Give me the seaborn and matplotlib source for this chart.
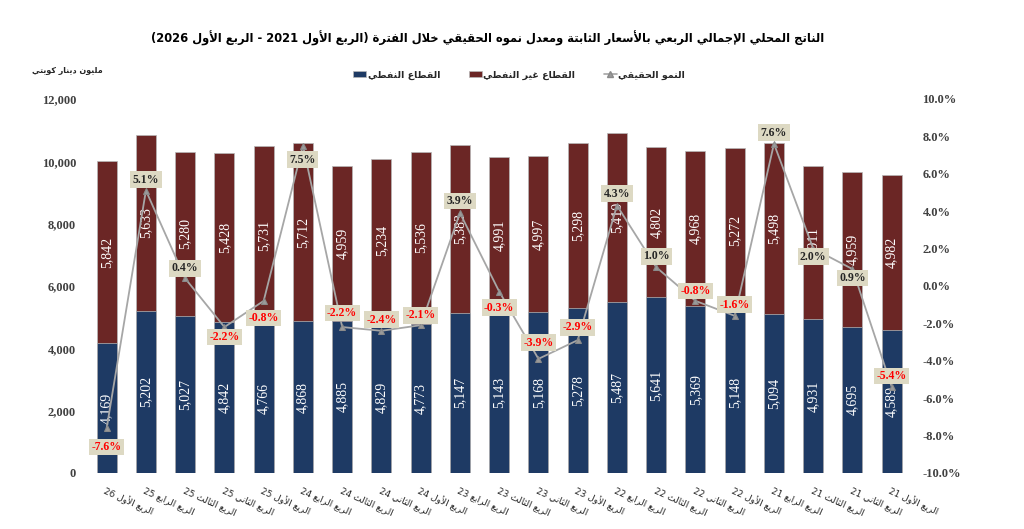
import numpy as np
import pandas as pd
import matplotlib
matplotlib.use("Agg")
import matplotlib.pyplot as plt
from matplotlib.patches import Patch
from matplotlib.lines import Line2D
import seaborn as sns

# ---------------- data ----------------
quarters = ["الربع الأول 26", "الربع الرابع 25", "الربع الثالث 25", "الربع الثاني 25", "الربع الأول 25",
            "الربع الرابع 24", "الربع الثالث 24", "الربع الثاني 24", "الربع الأول 24",
            "الربع الرابع 23", "الربع الثالث 23", "الربع الثاني 23", "الربع الأول 23",
            "الربع الرابع 22", "الربع الثالث 22", "الربع الثاني 22", "الربع الأول 22",
            "الربع الرابع 21", "الربع الثالث 21", "الربع الثاني 21", "الربع الأول 21"]
oil = [4169, 5202, 5027, 4842, 4766, 4868, 4885, 4829, 4773, 5147, 5143,
       5168, 5278, 5487, 5641, 5369, 5148, 5094, 4931, 4695, 4589]
non_oil = [5842, 5633, 5280, 5428, 5731, 5712, 4959, 5234, 5536, 5383, 4991,
           4997, 5298, 5410, 4802, 4968, 5272, 5498, 4911, 4959, 4982]
growth = [-7.6, 5.1, 0.4, -2.2, -0.8, 7.5, -2.2, -2.4, -2.1, 3.9, -0.3,
          -3.9, -2.9, 4.3, 1.0, -0.8, -1.6, 7.6, 2.0, 0.9, -5.4]

title_text = "الناتج المحلي الإجمالي الربعي بالأسعار الثابتة ومعدل نموه الحقيقي خلال الفترة (الربع الأول 2021 - الربع الأول 2026)"
label_oil = "القطاع النفطي"
label_non_oil = "القطاع غير النفطي"
label_growth = "النمو الحقيقي"
unit_text = "مليون دينار كويتي"

# label placement for growth labels (pixels, + = below the point)
growth_label_offset = [19, -11, -10, 10, 17, 14, -14, -11, -10, -12, 16,
                       -16, -13, -12, -11, -10, -11, -11, 8, 9, -11]

# ---------------- Arabic shaping (presentation forms) ----------------
_counts = [('\u0621', 1), ('\u0622', 2), ('\u0623', 2), ('\u0624', 2), ('\u0625', 2), ('\u0626', 4),
           ('\u0627', 2), ('\u0628', 4), ('\u0629', 2), ('\u062A', 4), ('\u062B', 4), ('\u062C', 4),
           ('\u062D', 4), ('\u062E', 4), ('\u062F', 2), ('\u0630', 2), ('\u0631', 2), ('\u0632', 2),
           ('\u0633', 4), ('\u0634', 4), ('\u0635', 4), ('\u0636', 4), ('\u0637', 4), ('\u0638', 4),
           ('\u0639', 4), ('\u063A', 4), ('\u0641', 4), ('\u0642', 4), ('\u0643', 4), ('\u0644', 4),
           ('\u0645', 4), ('\u0646', 4), ('\u0647', 4), ('\u0648', 2), ('\u0649', 2), ('\u064A', 4)]
FORMS = {}
_code = 0xFE80
for _ch, _n in _counts:
    FORMS[_ch] = [chr(_code + i) for i in range(_n)]
    _code += _n
LAM_ALEF = {'\u0622': ('\uFEF5', '\uFEF6'), '\u0623': ('\uFEF7', '\uFEF8'),
            '\u0625': ('\uFEF9', '\uFEFA'), '\u0627': ('\uFEFB', '\uFEFC')}


def shape_word(w):
    units = []
    i = 0
    while i < len(w):
        c = w[i]
        if c == '\u0644' and i + 1 < len(w) and w[i + 1] in LAM_ALEF:
            units.append(('LA', w[i + 1]))
            i += 2
        else:
            units.append(('C', c))
            i += 1

    def joins_next(u):
        k, c = u
        return k == 'C' and c in FORMS and len(FORMS[c]) == 4

    def is_ar(u):
        k, c = u
        return k == 'LA' or c in FORMS

    out = []
    for k, u in enumerate(units):
        kind, c = u
        prev_join = k > 0 and joins_next(units[k - 1])
        if kind == 'LA':
            out.append(LAM_ALEF[c][1 if prev_join else 0])
            continue
        if c not in FORMS:
            out.append(c)
            continue
        f = FORMS[c]
        if len(f) == 1:
            out.append(f[0])
            continue
        next_join = len(f) == 4 and k + 1 < len(units) and is_ar(units[k + 1])
        if prev_join and next_join:
            out.append(f[3])
        elif prev_join:
            out.append(f[1])
        elif next_join:
            out.append(f[2])
        else:
            out.append(f[0])
    return ''.join(out)


def _mirror(s):
    return s.translate(str.maketrans('()', ')('))


def ar(text):
    toks = text.split(' ')[::-1]
    res = []
    for t in toks:
        if any(ch in FORMS for ch in t):
            res.append(_mirror(shape_word(t)[::-1]))
        else:
            lead = ''
            while t and t[0] in '()':
                lead += t[0]
                t = t[1:]
            trail = ''
            while t and t[-1] in '()':
                trail = t[-1] + trail
                t = t[:-1]
            res.append(_mirror(trail[::-1]) + t + _mirror(lead[::-1]))
    return ' '.join(res)


# ---------------- plot ----------------
sns.set_theme(style="white")
plt.rcParams['font.family'] = ['DejaVu Sans']

BLUE = '#1e3a64'
RED = '#6b2625'
GREY = '#a6a6a6'
SERIF = ['Liberation Serif', 'DejaVu Serif']

n = len(quarters)
df = pd.DataFrame({
    "quarter": quarters,
    "oil": oil,
    "non_oil": non_oil,
})
df["total"] = df["oil"] + df["non_oil"]

fig = plt.figure(figsize=(10.24, 5.29), dpi=100)
ax = fig.add_axes([0.085, 0.106, 0.805, 0.707])

sns.barplot(data=df, x="quarter", y="total", order=quarters, color=RED, saturation=1,
            width=0.51, errorbar=None, ax=ax, edgecolor='#b8b8b8', linewidth=0.5)
sns.barplot(data=df, x="quarter", y="oil", order=quarters, color=BLUE, saturation=1,
            width=0.51, errorbar=None, ax=ax, edgecolor='#b8b8b8', linewidth=0.5)

ax.set_ylim(0, 12000)
ax.set_xlim(-0.5, n - 0.5)
ax.set_yticks(np.arange(0, 12001, 2000))
ax.set_yticklabels([f"{v:,}" for v in range(0, 12001, 2000)],
                   fontfamily=SERIF, fontweight='bold', fontsize=9, color='#404040')
ax.set_xticks(range(n))
ax.set_xticklabels([ar(q) for q in quarters], rotation=-24, ha='left',
                   rotation_mode='anchor', fontsize=6.5, color='#262626')
ax.tick_params(axis='x', length=0, pad=9)
ax.tick_params(axis='y', length=0, pad=8)
ax.set_xlabel("")
ax.set_ylabel("")
for s in ax.spines.values():
    s.set_visible(False)

# value labels inside bars
for i in range(n):
    ax.text(i, oil[i] / 2, f"{oil[i]:,}", rotation=90, ha='center', va='center',
            color='white', fontsize=10, fontfamily=SERIF)
    ax.text(i, oil[i] + non_oil[i] / 2, f"{non_oil[i]:,}", rotation=90, ha='center',
            va='center', color='white', fontsize=10, fontfamily=SERIF)

# growth line on secondary axis
ax2 = ax.twinx()
sns.lineplot(x=np.arange(n), y=growth, ax=ax2, color=GREY, linewidth=1.3,
             marker='^', markersize=5, markerfacecolor='#9a9a9a', markeredgecolor='#8a8a8a')
ax2.set_ylim(-10, 10)
ax2.set_xlim(-0.5, n - 0.5)
ax2.set_yticks(np.arange(-10, 10.1, 2))
ax2.set_yticklabels([f"{v:.1f}%" for v in np.arange(-10, 10.1, 2)],
                    fontfamily=SERIF, fontweight='bold', fontsize=9, color='#404040')
ax2.tick_params(axis='y', length=0, pad=8)
ax2.set_ylabel("")
for s in ax2.spines.values():
    s.set_visible(False)

for i in range(n):
    g = growth[i]
    ax2.annotate(f"{g:.1f}%", xy=(i, g), xytext=(0, -growth_label_offset[i]),
                 textcoords='offset pixels', ha='center', va='center',
                 fontsize=8.5, fontweight='bold', fontfamily=SERIF,
                 color='#ff0000' if g < 0 else '#262626',
                 bbox=dict(boxstyle='square,pad=0.2', facecolor='#ddd9c3', edgecolor='none'))

# title, unit label, legend
fig.text(0.476, 0.928, ar(title_text), ha='center', va='center', fontsize=8.3,
         fontweight='bold', color='#000000')
fig.text(0.066, 0.866, ar(unit_text), ha='center', va='center', fontsize=5.8,
         fontweight='bold', color='#262626')

handles = [Patch(facecolor=BLUE, edgecolor='#b8b8b8', linewidth=0.5),
           Patch(facecolor=RED, edgecolor='#b8b8b8', linewidth=0.5),
           Line2D([0], [0], color=GREY, marker='^', markersize=4,
                  markerfacecolor='#9a9a9a', markeredgecolor='#8a8a8a', linewidth=1.2)]
leg = fig.legend(handles, [ar(label_oil), ar(label_non_oil), ar(label_growth)],
                 loc='center', bbox_to_anchor=(0.507, 0.858), ncol=3, frameon=False,
                 fontsize=6.8, handlelength=1.4, handleheight=0.6, handletextpad=0.15,
                 columnspacing=3.0)
for t in leg.get_texts():
    t.set_fontweight('bold')

fig.savefig("out.png", dpi=100, facecolor='white')
